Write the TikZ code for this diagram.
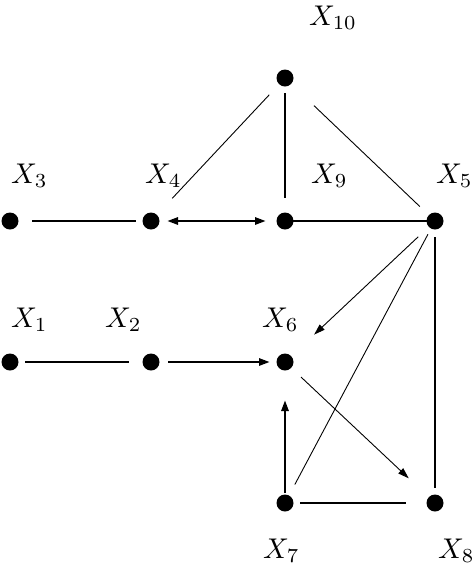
\documentclass[tikz,border=0pt]{standalone}
\usetikzlibrary{arrows.meta}
\newcommand{\biglab}[1]{\scalebox{2.85}{$#1$}}
\begin{document}
\begin{tikzpicture}[x=1pt,y=-1pt,
  dot/.style={circle,fill=black,inner sep=0pt,minimum size=17pt},
  lab/.style={anchor=base west,inner sep=0pt},
  thickl/.style={line width=2.6pt},
  thinl/.style={line width=0.9pt},
  tip/.style={-{Triangle[length=11pt,width=7pt]}},
  dtip/.style={{Triangle[length=11pt,width=7pt]}-{Triangle[length=11pt,width=7pt]}}]
\useasboundingbox (0,0) rectangle (474,566);
\node[dot] (x10) at (285,78) {};
\node[dot] (x3) at (10,221) {};
\node[dot] (x4) at (151,221) {};
\node[dot] (x9) at (285,221) {};
\node[dot] (x5) at (435,221) {};
\node[dot] (x1) at (10,362) {};
\node[dot] (x2) at (151,362) {};
\node[dot] (x6) at (285,362) {};
\node[dot] (x7) at (285,503) {};
\node[dot] (x8) at (435,503) {};
\node[lab] (l10) at (309,25) {\biglab{X_{10}}};
\node[lab] (l3) at (11,183) {\biglab{X_{3}}};
\node[lab] (l4) at (145,183) {\biglab{X_{4}}};
\node[lab] (l9) at (311,183) {\biglab{X_{9}}};
\node[lab] (l5) at (436,183) {\biglab{X_{5}}};
\node[lab] (l1) at (11,327) {\biglab{X_{1}}};
\node[lab] (l2) at (105,327) {\biglab{X_{2}}};
\node[lab] (l6) at (262,327) {\biglab{X_{6}}};
\node[lab] (l7) at (263,558) {\biglab{X_{7}}};
\node[lab] (l8) at (438,558) {\biglab{X_{8}}};
% edges
\draw[thickl,shorten <=22pt,shorten >=15pt] (x3.center) -- (x4.center);
\draw[thickl,dtip,shorten <=16pt,shorten >=19pt] (x4.center) -- (x9.center);
\draw[thickl,shorten >=8pt] (x9.center) -- (x5.center);
\draw[thickl,shorten <=15pt,shorten >=23pt] (x10.center) -- (x9.center);
\draw[thinl,shorten <=23pt,shorten >=31pt] (x10.center) -- (x4.center);
\draw[thinl,shorten <=40pt,shorten >=21pt] (x10.center) -- (x5.center);
\draw[thinl,tip,shorten <=23pt,shorten >=40pt] (x5.center) -- (x6.center);
\draw[thinl,shorten <=15pt,shorten >=21pt] (x5.center) -- (x7.center);
\draw[thickl,shorten <=16pt,shorten >=15pt] (x5.center) -- (x8.center);
\draw[thickl,shorten <=15pt,shorten >=22pt] (x1.center) -- (x2.center);
\draw[thickl,tip,shorten <=17pt,shorten >=15pt] (x2.center) -- (x6.center);
\draw[thinl,tip,shorten <=22pt,shorten >=36pt] (x6.center) -- (x8.center);
\draw[thickl,tip,shorten <=10pt,shorten >=38pt] (x7.center) -- (x6.center);
\draw[thickl,shorten <=15pt,shorten >=29pt] (x7.center) -- (x8.center);
\end{tikzpicture}
\end{document}
